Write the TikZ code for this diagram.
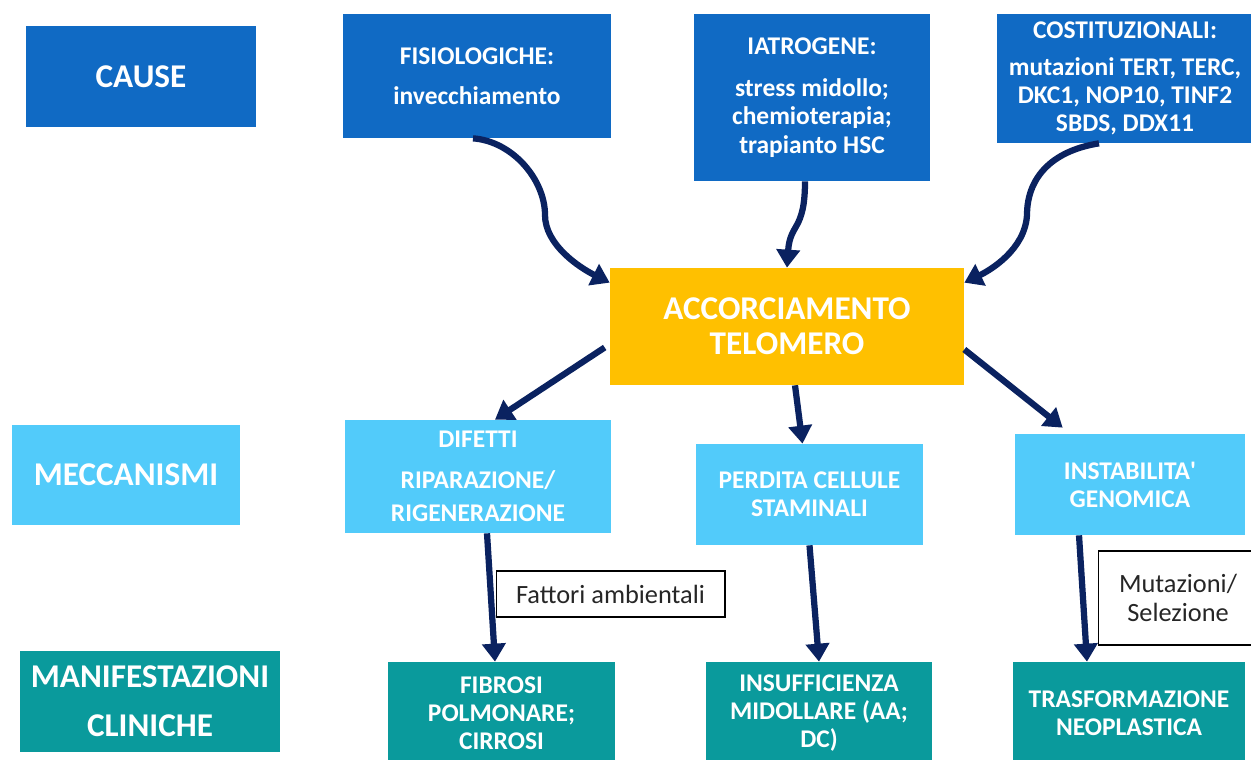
\documentclass[tikz,border=0pt]{standalone}
\usepackage{fontspec}
\setmainfont{Carlito}
\usetikzlibrary{positioning,calc,arrows.meta}
\definecolor{bluCausa}{RGB}{16,106,196}
\definecolor{azzurroMecc}{RGB}{82,203,250}
\definecolor{verdeMan}{RGB}{10,154,156}
\definecolor{gialloAcc}{RGB}{255,192,0}
\definecolor{bluFreccia}{RGB}{10,34,96}
\tikzset{
	box/.style 2 args={rectangle,inner sep=0pt,align=center,text=white,minimum width=#1,minimum height=#2},
	piccolo/.style={font=\bfseries\fontsize{14.5}{16}\selectfont},
	grande/.style={font=\bfseries\fontsize{18.9}{20}\selectfont},
	causa/.style={fill=bluCausa,piccolo},
	mecc/.style={fill=azzurroMecc,piccolo},
	manif/.style={fill=verdeMan,piccolo},
	nota/.style={rectangle,draw=black,line width=0.6pt,fill=white,inner sep=0pt,align=center,text=black!85,font=\fontsize{15}{17}\selectfont},
	freccia/.style={draw=bluFreccia,line width=0.125cm,-{Triangle[length=0.36cm,width=0.46cm]}}
}
\begin{document}
\begin{tikzpicture}[x=0.02cm,y=-0.02cm]
	\useasboundingbox[fill=white] (0,0) rectangle (1251,760);
	\node[box={4.6cm}{2.02cm},causa,grande] (cause) at (141,76.5) {CAUSE};
	\node[box={5.36cm}{2.48cm},causa] (fis) at (477,76) {FISIOLOGICHE:\\[7pt]invecchiamento};
	\node[box={4.72cm}{3.34cm},causa] (iat) at (812,97.5) {IATROGENE:\\[8pt]stress midollo;\\chemioterapia;\\trapianto HSC};
	\node[box={5.12cm}{2.58cm},causa] (cos) at (1125,78.5) {COSTITUZIONALI:\\[5pt]mutazioni TERT, TERC,\\DKC1, NOP10, TINF2\\SBDS, DDX11};
	\node[box={7.08cm}{2.34cm},fill=gialloAcc,grande] (acc) at (787,326.5) {ACCORCIAMENTO\\TELOMERO};
	\node[box={4.56cm}{2cm},mecc,grande] (mec) at (126,475) {MECCANISMI};
	\node[box={5.32cm}{2.26cm},mecc] (dif) at (478,476.5) {DIFETTI\\[7pt]RIPARAZIONE/\\[3pt]RIGENERAZIONE};
	\node[box={4.54cm}{2.02cm},mecc] (per) at (809.5,494.5) {PERDITA CELLULE\\STAMINALI};
	\node[box={4.6cm}{2.02cm},mecc] (ins) at (1130,484.5) {INSTABILITA\textquotesingle\\GENOMICA};
	\node[box={5.2cm}{2.02cm},manif,grande] (man) at (150,701.5) {MANIFESTAZIONI\\[8pt]CLINICHE};
	\node[box={4.54cm}{2.04cm},manif] (fib) at (501.5,713) {FIBROSI\\POLMONARE;\\CIRROSI};
	\node[box={4.52cm}{2.04cm},manif] (insu) at (819,713) {INSUFFICIENZA\\MIDOLLARE (AA;\\DC)};
	\node[box={4.64cm}{2.04cm},manif] (tra) at (1129,713) {TRASFORMAZIONE\\NEOPLASTICA};
	\node[nota,minimum width=4.58cm,minimum height=0.92cm] (fat) at (610.5,594) {Fattori ambientali};
	\node[nota,minimum width=3.2cm,minimum height=1.88cm] (mut) at (1178,598) {Mutazioni/\\Selezione};
	\coordinate (fisbend) at (545,215);
	\coordinate (cosbend) at (1027,215);
	\draw[freccia] ([xshift=-0.08cm]fis.south) .. controls +(40,3) and +(0,-35) .. (fisbend) .. controls +(0,30) and +(-30,-15) .. ([yshift=-0.3cm]acc.north west);
	\draw[freccia] ([xshift=-0.14cm]iat.south) .. controls +(0,50) and +(3,-45) .. (acc.north);
	\draw[freccia] ([xshift=-0.52cm]cos.south) .. controls +(-50,8) and +(0,-35) .. (cosbend) .. controls +(-2,35) and +(25,-12) .. ([yshift=-0.3cm]acc.north east);
	\draw[freccia] ([xshift=-0.1cm,yshift=-0.42cm]acc.west) -- ([xshift=0.34cm]dif.north);
	\draw[freccia] ([xshift=0.16cm]acc.south) -- ([xshift=-0.14cm]per.north);
	\draw[freccia] ([yshift=-0.46cm]acc.east) -- ([xshift=0.96cm,yshift=0.12cm]ins.north west);
	\draw[freccia] ([xshift=0.18cm]dif.south) -- ([xshift=-0.13cm]fib.north);
	\draw[freccia] (per.south) -- (insu.north);
	\draw[freccia] ([xshift=-1.02cm]ins.south) -- ([xshift=-0.84cm]tra.north);
\end{tikzpicture}
\end{document}
